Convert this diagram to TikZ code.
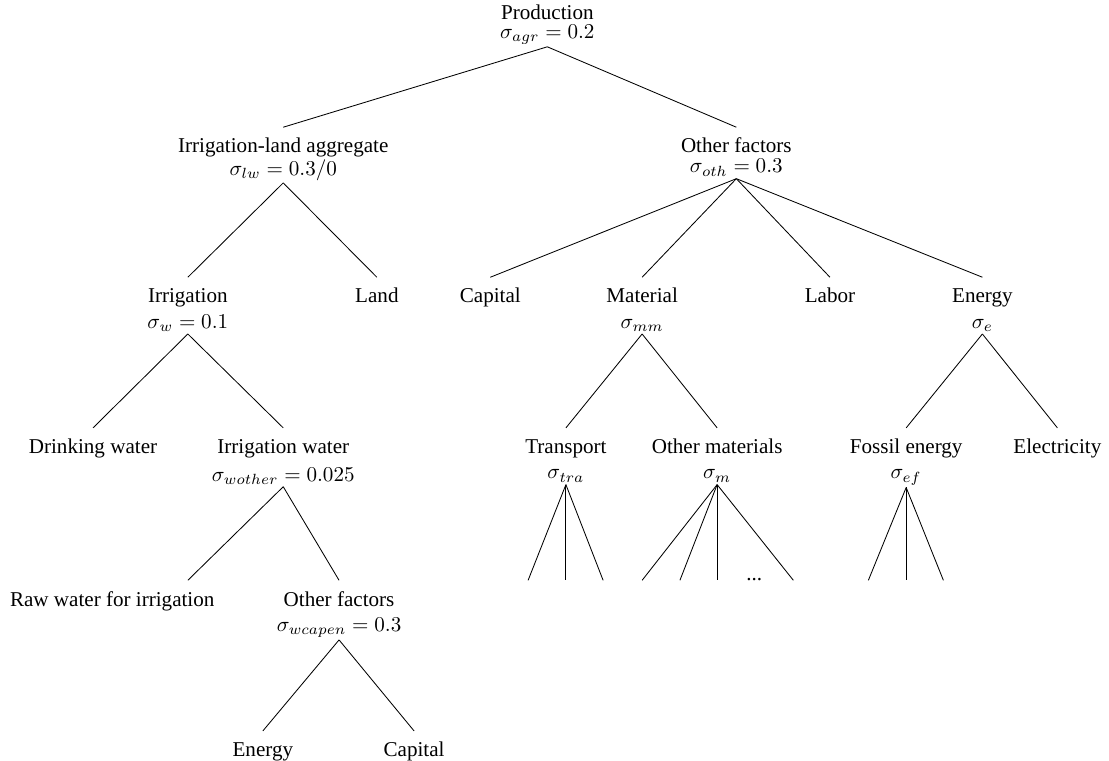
\documentclass[tikz,border=0pt]{standalone}
\usepackage[no-math]{fontspec}
\setmainfont{Liberation Serif}
\usepackage{amsmath}
\newcommand{\tstrut}{\rule{0pt}{11pt}}

\begin{document}
\begin{tikzpicture}[fac/.style={align=center,inner xsep=0pt,inner ysep=1pt,anchor=north,execute at begin node=\tstrut}]
\useasboundingbox (0,0) rectangle (18.48,-12.68);
\node[fac,anchor=south] (prod) at (9.12,-0.78) {Production\\[-3pt]$\sigma_{agr}=0.2$};
\node[fac] (irl) at (4.72,-2.12) {\tstrut Irrigation-land aggregate\\[-1.5pt]$\sigma_{lw}=0.3/0$};
\node[fac] (oth) at (12.27,-2.12) {\tstrut Other factors\\[-2.5pt]$\sigma_{oth}=0.3$};
\node[fac] (irr) at (3.13,-4.62) {\tstrut Irrigation\\$\sigma_w=0.1$};
\node[fac] (land) at (6.28,-4.62) {Land};
\node[fac] (cap) at (8.17,-4.62) {Capital};
\node[fac] (mat) at (10.70,-4.62) {\tstrut Material\\$\sigma_{mm}$};
\node[fac] (lab) at (13.83,-4.62) {Labor};
\node[fac] (ene) at (16.37,-4.62) {\tstrut Energy\\$\sigma_e$};
\node[fac] (drk) at (1.55,-7.13) {Drinking water};
\node[fac] (iwt) at (4.72,-7.13) {\tstrut Irrigation water\\[1pt]$\sigma_{wother}=0.025$};
\node[fac] (tra) at (9.43,-7.13) {\tstrut Transport\\$\sigma_{tra}$};
\node[fac] (omt) at (11.95,-7.13) {\tstrut Other materials\\$\sigma_m$};
\node[fac] (fos) at (15.10,-7.13) {\tstrut Fossil energy\\$\sigma_{ef}$};
\node[fac] (ele) at (17.62,-7.13) {Electricity};
\node[fac] (raw) at (1.87,-9.67) {Raw water for irrigation};
\node[fac] (wof) at (5.65,-9.67) {\tstrut Other factors\\$\sigma_{wcapen}=0.3$};
\node[fac] (wen) at (4.38,-12.18) {Energy};
\node[fac] (wcp) at (6.90,-12.18) {Capital};
\node[anchor=base,inner sep=0pt] (dots) at (12.57,-9.67) {...};
\draw (prod.south) -- (irl.north);
\draw (prod.south) -- (oth.north);
\foreach \c in {irr,land} \draw (irl.south) -- (\c.north);
\foreach \c in {cap,mat,lab,ene} \draw (oth.south) -- (\c.north);
\foreach \c in {drk,iwt} \draw (irr.south) -- (\c.north);
\foreach \c in {tra,omt} \draw (mat.south) -- (\c.north);
\foreach \c in {fos,ele} \draw (ene.south) -- (\c.north);
\draw (iwt.south) -- ([xshift=1.26cm]raw.north);
\draw (iwt.south) -- (wof.north);
\foreach \c in {wen,wcp} \draw (wof.south) -- (\c.north);
\foreach \x [count=\i] in {8.80,9.43,10.05} {\coordinate (t\i) at (\x,-9.67); \draw (tra.south) -- (t\i);}
\foreach \x [count=\i] in {10.70,11.33,11.95,13.22} {\coordinate (m\i) at (\x,-9.67); \draw (omt.south) -- (m\i);}
\foreach \x [count=\i] in {14.47,15.10,15.72} {\coordinate (f\i) at (\x,-9.67); \draw (fos.south) -- (f\i);}
\end{tikzpicture}
\end{document}
